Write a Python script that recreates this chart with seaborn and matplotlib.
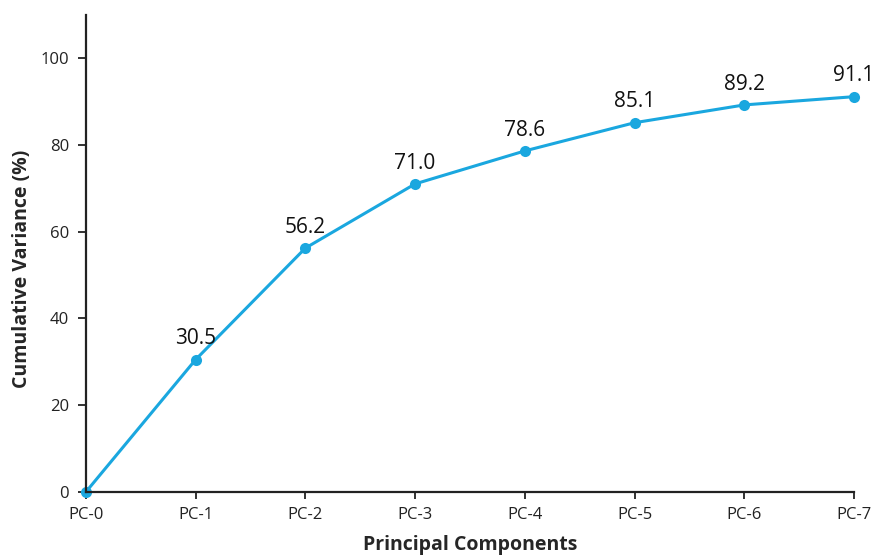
import matplotlib
matplotlib.use("Agg")
import matplotlib.pyplot as plt
import seaborn as sns
import pandas as pd

components = ["PC-0", "PC-1", "PC-2", "PC-3", "PC-4", "PC-5", "PC-6", "PC-7"]
cumulative_variance = [0.0, 30.5, 56.2, 71.0, 78.6, 85.1, 89.2, 91.1]
value_labels = ["", "30.5", "56.2", "71.0", "78.6", "85.1", "89.2", "91.1"]
y_ticks = [0, 20, 40, 60, 80, 100]

sns.set_style("ticks")
plt.rcParams["font.family"] = ["Open Sans", "DejaVu Sans"]

df = pd.DataFrame({"idx": range(len(components)), "cv": cumulative_variance})

fig = plt.figure(figsize=(8.76, 5.57), dpi=100)
ax = fig.add_axes([0.098, 0.1167, 0.877, 0.857])

color = "#1AA7DF"
sns.lineplot(data=df, x="idx", y="cv", ax=ax, color=color, linewidth=2.2,
             marker="o", markersize=8, markeredgewidth=0, markeredgecolor=color)

for i, (v, lab) in enumerate(zip(cumulative_variance, value_labels)):
    if lab:
        ax.annotate(lab, (i, v), xytext=(0, 11), textcoords="offset points",
                    ha="center", va="baseline", fontsize=15, color="#111111")

ax.set_xlim(0, len(components) - 1)
ax.set_ylim(0, 110)
ax.set_xticks(range(len(components)))
ax.set_xticklabels(components)
ax.set_yticks(y_ticks)
ax.tick_params(axis="both", labelsize=12, colors="#222222", length=5, width=1.3, pad=6)
ax.tick_params(axis="y", length=6)

for side in ["top", "right"]:
    ax.spines[side].set_visible(False)
for side in ["left", "bottom"]:
    ax.spines[side].set_linewidth(1.6)
    ax.spines[side].set_color("#222222")

ax.set_xlabel("Principal Components", fontsize=14, fontweight="bold")
ax.set_ylabel("Cumulative Variance (%)", fontsize=14, fontweight="bold")
ax.xaxis.set_label_coords(0.5, -0.09)
ax.yaxis.set_label_coords(-0.070, 0.467)
ax.margins(0)
for m in ax.lines:
    m.set_clip_on(False)

fig.savefig("out.png", dpi=100)
